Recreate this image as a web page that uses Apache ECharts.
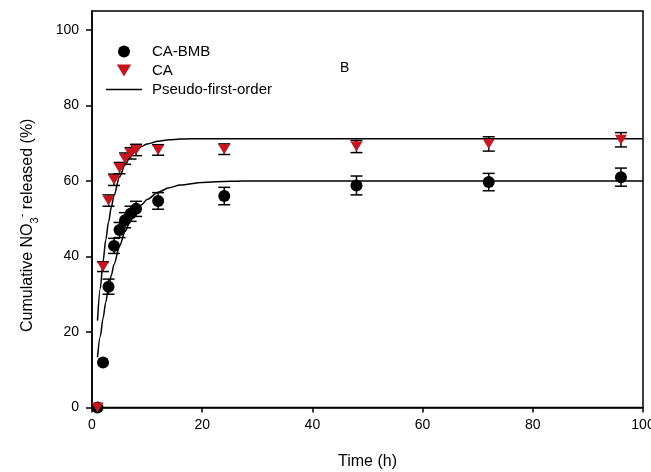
<!DOCTYPE html>
<html>
<head>
<meta charset="utf-8">
<script src="https://cdn.jsdelivr.net/npm/echarts@6/dist/echarts.min.js"></script>
<style>
html,body{margin:0;padding:0;background:#fff;}
#chart{width:651px;height:472px;}
</style>
</head>
<body>
<div id="chart"></div>
<script>
// ---- data ----
var times = [1, 2, 3, 4, 5, 6, 7, 8, 12, 24, 48, 72, 96];
var caBmb = [0, 11.9, 32.0, 42.8, 47.0, 49.6, 51.3, 52.6, 54.7, 56.0, 58.8, 59.7, 61.0];
var caBmbErr = [0, 0, 2.0, 2.0, 2.0, 2.0, 2.0, 2.0, 2.2, 2.3, 2.5, 2.3, 2.4];
var ca = [0, 37.3, 54.8, 60.3, 63.4, 65.9, 67.3, 68.2, 68.2, 68.4, 69.1, 69.8, 70.9];
var caErr = [0, 1.3, 1.5, 1.5, 1.5, 1.5, 1.5, 1.5, 1.4, 1.4, 1.6, 1.9, 1.9];

var fitTimes = [1, 1.5, 2, 2.5, 3, 3.5, 4, 5, 6, 7, 8, 9, 10, 12, 14, 16, 20, 25, 30, 40, 100];
var fitBmb = [13.3, 18.8, 23.6, 27.9, 31.7, 35.0, 37.9, 42.8, 46.6, 49.6, 51.9, 53.7, 55.1, 57.0, 58.2, 58.9, 59.6, 59.9, 60.0, 60.0, 60.0];
var fitCa = [23.0, 31.5, 38.6, 44.4, 49.1, 53.0, 56.2, 61.1, 64.3, 66.6, 68.0, 69.1, 69.8, 70.5, 70.9, 71.1, 71.2, 71.2, 71.2, 71.2, 71.2];

var xTicks = [0, 20, 40, 60, 80, 100];
var yTicks = [0, 20, 40, 60, 80, 100];

var seriesNames = ['CA-BMB', 'CA', 'Pseudo-first-order'];

// ---- build ----
function pairs(xs, ys) { return xs.map(function (x, i) { return [x, ys[i]]; }); }
function triples(xs, ys, es) { return xs.map(function (x, i) { return [x, ys[i], es[i]]; }); }

var FONT = "'Liberation Sans', Arial, sans-serif";
var RED = '#c8141e';

function errRender(params, api) {
  var x = api.value(0), y = api.value(1), e = api.value(2);
  if (!(e > 0.3)) return null;
  var top = api.coord([x, y + e]);
  var bot = api.coord([x, y - e]);
  var hw = 6;
  var st = { stroke: '#000', lineWidth: 1.5 };
  return {
    type: 'group',
    children: [
      { type: 'line', shape: { x1: top[0], y1: top[1], x2: bot[0], y2: bot[1] }, style: st },
      { type: 'line', shape: { x1: top[0] - hw, y1: top[1], x2: top[0] + hw, y2: top[1] }, style: st },
      { type: 'line', shape: { x1: bot[0] - hw, y1: bot[1], x2: bot[0] + hw, y2: bot[1] }, style: st }
    ]
  };
}

var chart = echarts.init(document.getElementById('chart'), null, { renderer: 'canvas' });

var option = {
  backgroundColor: '#fff',
  animation: false,
  textStyle: { fontFamily: FONT, color: '#000' },
  grid: {
    left: 92, right: 8, top: 11, bottom: 64.5,
    containLabel: false, outerBoundsMode: 'none',
    show: true, borderColor: '#000', borderWidth: 1.5, backgroundColor: 'transparent'
  },
  legend: {
    orient: 'vertical',
    left: 101, top: 39,
    itemWidth: 36, itemHeight: 12,
    itemGap: 4,
    symbolKeepAspect: true,
    data: [
      { name: seriesNames[0], icon: 'circle', itemStyle: { color: '#000', opacity: 1 } },
      { name: seriesNames[1], icon: 'path://M0,0L12,0L6,10Z', itemStyle: { color: RED, opacity: 1 } },
      { name: seriesNames[2], icon: 'path://M0,0L36,0L36,1.5L0,1.5Z', itemStyle: { color: '#000', opacity: 1 } }
    ],
    textStyle: { fontFamily: FONT, fontSize: 15, color: '#000', padding: [0, 0, 0, 5] }
  },
  xAxis: {
    type: 'value', min: 0, max: 100, interval: 20,
    name: 'Time (h)', nameLocation: 'middle', nameGap: 46,
    nameTextStyle: { fontFamily: FONT, fontSize: 16, color: '#000' },
    axisLine: { show: true, lineStyle: { color: '#000', width: 1.5 } },
    axisTick: { show: true, inside: false, length: 5, lineStyle: { color: '#000', width: 1.5 }, customValues: xTicks },
    axisLabel: { fontFamily: FONT, fontSize: 14, color: '#000', margin: 11, customValues: xTicks },
    splitLine: { show: false }
  },
  yAxis: {
    type: 'value', min: 0, max: 105,
    name: 'Cumulative NO{sub|3}{sup|-} released (%)',
    nameLocation: 'middle', nameGap: 52, nameRotate: 90,
    nameTextStyle: {
      fontFamily: FONT, fontSize: 16, color: '#000', lineHeight: 24,
      padding: [0, 32, 0, 0],
      rich: {
        sub: { fontFamily: FONT, fontSize: 11, color: '#000', verticalAlign: 'bottom', lineHeight: 11 },
        sup: { fontFamily: FONT, fontSize: 11, color: '#000', verticalAlign: 'top', lineHeight: 11 }
      }
    },
    axisLine: { show: true, lineStyle: { color: '#000', width: 1.5 } },
    axisTick: { show: true, inside: false, length: 6, lineStyle: { color: '#000', width: 1.5 }, customValues: yTicks },
    axisLabel: { fontFamily: FONT, fontSize: 14, color: '#000', margin: 13, customValues: yTicks },
    splitLine: { show: false }
  },
  graphic: [
    { type: 'text', left: 340, top: 61, style: { text: 'B', fontFamily: FONT, fontSize: 14, fill: '#000' } }
  ],
  series: [
    {
      name: seriesNames[2], type: 'line', data: pairs(fitTimes, fitBmb),
      symbol: 'none', smooth: 0.3, smoothMonotone: 'x',
      lineStyle: { color: '#000', width: 1.5 }, itemStyle: { color: '#000' }, z: 2
    },
    {
      name: seriesNames[2], type: 'line', data: pairs(fitTimes, fitCa),
      symbol: 'none', smooth: 0.3, smoothMonotone: 'x',
      lineStyle: { color: '#000', width: 1.5 }, itemStyle: { color: '#000' }, z: 2
    },
    {
      type: 'custom', name: 'errBmb', renderItem: errRender,
      data: triples(times, caBmb, caBmbErr), encode: { x: 0, y: 1 }, z: 3, silent: true
    },
    {
      type: 'custom', name: 'errCa', renderItem: errRender,
      data: triples(times, ca, caErr), encode: { x: 0, y: 1 }, z: 3, silent: true
    },
    {
      name: seriesNames[0], type: 'scatter', data: pairs(times, caBmb),
      symbol: 'circle', symbolSize: 12, itemStyle: { color: '#000', opacity: 1 }, clip: false, z: 4
    },
    {
      name: seriesNames[1], type: 'scatter', data: pairs(times, ca),
      symbol: 'triangle', symbolRotate: 180, symbolSize: [12, 10], itemStyle: { color: RED, opacity: 1 }, clip: false, z: 5
    }
  ]
};

chart.setOption(option);
</script>
</body>
</html>
